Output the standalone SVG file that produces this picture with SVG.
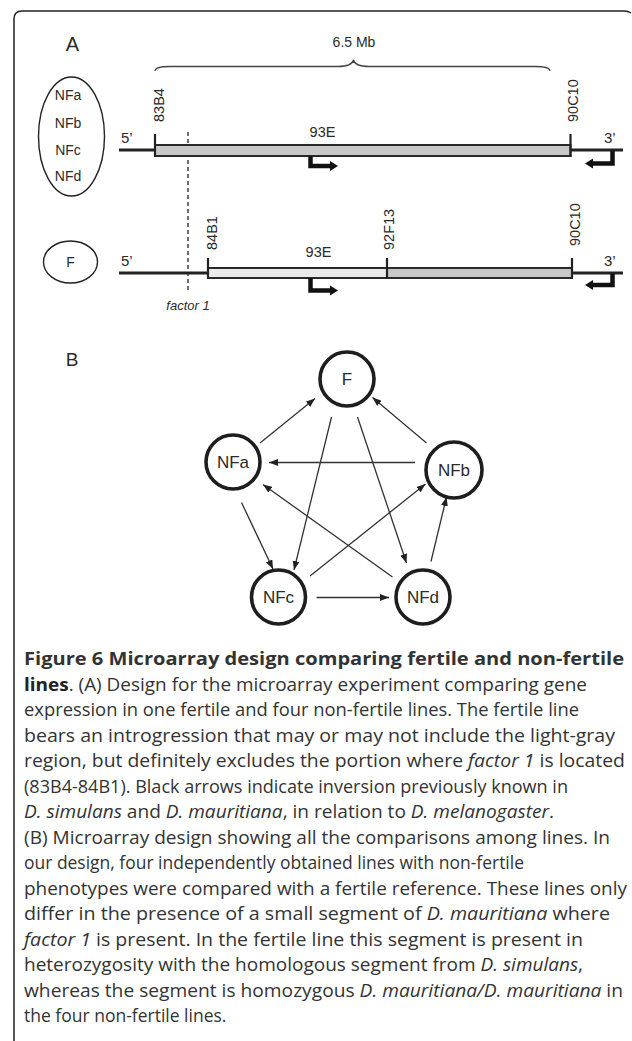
<svg xmlns="http://www.w3.org/2000/svg" width="632" height="1041" viewBox="0 0 632 1041">
<defs>
<style>
.lbl{font-family:"Liberation Sans",Arial,sans-serif;fill:#2a2a2a}
.cap{font-family:"Open Sans","Noto Sans",sans-serif;font-size:17.5px;fill:#333}
.chr{stroke:#222;stroke-width:3;fill:none}
.box{stroke:#2a2a2a;stroke-width:2}
.tick{stroke:#222;stroke-width:2.2}
.bent{stroke:#111;stroke-width:4.5;fill:none}
.head{fill:#111}
.node{fill:#fff;stroke:#1e1e1e;stroke-width:3.6}
.edge{stroke:#333;stroke-width:1.3;fill:none;marker-end:url(#ah)}
</style>
<marker id="ah" markerUnits="userSpaceOnUse" markerWidth="9" markerHeight="7" refX="9" refY="3.5" orient="auto">
<path d="M0,0 L9,3.5 L0,7 z" fill="#222"/>
</marker>
</defs>
<rect width="632" height="1041" fill="#fff"/>
<path d="M14,1041 V19 Q14,11 22,11 H624 Q628,11 631,13" fill="none" stroke="#222" stroke-width="1.5"/>

<g id="partA">
<text class="lbl" x="72.5" y="51" font-size="20" text-anchor="middle">A</text>
<text class="lbl" x="354" y="47" font-size="14" text-anchor="middle">6.5 Mb</text>
<path d="M155,71 Q155,66.5 170,66.5 H338 Q352,66.5 353.5,60 Q355,66.5 369,66.5 H535 Q550,66.5 550,71" fill="none" stroke="#444" stroke-width="1.3"/>
<line x1="188" y1="132" x2="188" y2="290" stroke="#222" stroke-width="1.3" stroke-dasharray="4,3"/>
</g>

<g id="groupNF">
<ellipse cx="71.5" cy="136.5" rx="33" ry="59.5" fill="none" stroke="#222" stroke-width="1.4"/>
<text class="lbl" x="68" y="100" font-size="14" text-anchor="middle">NFa</text>
<text class="lbl" x="68" y="128" font-size="14" text-anchor="middle">NFb</text>
<text class="lbl" x="68" y="155" font-size="14" text-anchor="middle">NFc</text>
<text class="lbl" x="68" y="181" font-size="14" text-anchor="middle">NFd</text>
</g>

<g id="chromNF">
<line class="chr" x1="119" y1="150" x2="623" y2="150"/>
<rect class="box" x="155" y="145" width="415.5" height="11" fill="#c8c8c8"/>
<line class="tick" x1="155" y1="134" x2="155" y2="157"/>
<line class="tick" x1="570.5" y1="134" x2="570.5" y2="157"/>
<text class="lbl" font-size="14.5" transform="translate(164,122) rotate(-90)">83B4</text>
<text class="lbl" font-size="14.5" transform="translate(578,122) rotate(-90)">90C10</text>
<text class="lbl" x="322.5" y="137" font-size="14.5" text-anchor="middle">93E</text>
<text class="lbl" x="121" y="143" font-size="15">5’</text>
<text class="lbl" x="604" y="143" font-size="15">3’</text>
<path class="bent" d="M310.5,156 V166 H331"/>
<path class="head" d="M330,161 L338,166 L330,171 z"/>
<path class="bent" d="M612.5,151 V163.5 H592"/>
<path class="head" d="M593,158.5 L585,163.5 L593,168.5 z"/>
</g>

<g id="groupF">
<ellipse cx="70.5" cy="262" rx="27" ry="21" fill="none" stroke="#222" stroke-width="1.4"/>
<text class="lbl" x="70.5" y="267" font-size="14" text-anchor="middle">F</text>
</g>

<g id="chromF">
<line class="chr" x1="119" y1="273" x2="623" y2="273"/>
<rect class="box" x="208" y="268" width="179" height="10" fill="#ebebeb"/>
<rect class="box" x="387" y="268" width="185" height="10" fill="#c8c8c8"/>
<line class="tick" x1="208" y1="258" x2="208" y2="279"/>
<line class="tick" x1="387" y1="258" x2="387" y2="279"/>
<line class="tick" x1="572" y1="258" x2="572" y2="279"/>
<text class="lbl" font-size="14.5" transform="translate(217,250) rotate(-90)">84B1</text>
<text class="lbl" font-size="14.5" transform="translate(394,250) rotate(-90)">92F13</text>
<text class="lbl" font-size="14.5" transform="translate(580,246) rotate(-90)">90C10</text>
<text class="lbl" x="318.5" y="257" font-size="14.5" text-anchor="middle">93E</text>
<text class="lbl" x="121" y="266" font-size="15">5’</text>
<text class="lbl" x="604" y="266" font-size="15">3’</text>
<path class="bent" d="M310.5,278 V290.5 H331"/>
<path class="head" d="M330,285.5 L338,290.5 L330,295.5 z"/>
<path class="bent" d="M612.5,274 V285 H592"/>
<path class="head" d="M593,280 L585,285 L593,290 z"/>
<text class="lbl" x="188" y="310" font-size="13" font-style="italic" text-anchor="middle">factor 1</text>
</g>

<text class="lbl" x="72" y="366" font-size="19" text-anchor="middle">B</text>

<g id="connectors">
<line class="edge" x1="260" y1="443" x2="315" y2="398.5"/>
<line class="edge" x1="426.5" y1="443" x2="372.5" y2="397.5"/>
<line class="edge" x1="331.5" y1="417" x2="294" y2="570"/>
<line class="edge" x1="357.5" y1="417" x2="406.5" y2="563"/>
<line class="edge" x1="415" y1="462.5" x2="269" y2="462.5"/>
<line class="edge" x1="392.5" y1="577" x2="263" y2="484.5"/>
<line class="edge" x1="310" y1="576" x2="425.5" y2="484"/>
<line class="edge" x1="241.5" y1="502.5" x2="273" y2="569"/>
<line class="edge" x1="431" y1="561.5" x2="446.5" y2="497"/>
<line class="edge" x1="316.5" y1="597.5" x2="389" y2="597.5"/>
</g>

<g id="F">
<circle class="node" cx="347" cy="379" r="27"/>
<text class="lbl" x="347" y="385" font-size="17" text-anchor="middle">F</text>
</g>
<g id="NFa">
<circle class="node" cx="233" cy="462" r="27"/>
<text class="lbl" x="233" y="468" font-size="17" text-anchor="middle">NFa</text>
</g>
<g id="NFb">
<circle class="node" cx="454" cy="470" r="28"/>
<text class="lbl" x="454" y="476" font-size="17" text-anchor="middle">NFb</text>
</g>
<g id="NFc">
<circle class="node" cx="278.5" cy="597" r="27"/>
<text class="lbl" x="278.5" y="603" font-size="17" text-anchor="middle">NFc</text>
</g>
<g id="NFd">
<circle class="node" cx="423" cy="597" r="27"/>
<text class="lbl" x="423" y="603" font-size="17" text-anchor="middle">NFd</text>
</g>

<g id="caption">
<text class="cap" x="24" y="665" font-weight="bold" fill="#222" textLength="600" lengthAdjust="spacingAndGlyphs">Figure 6 Microarray design comparing fertile and non-fertile</text>
<text class="cap" x="24" y="690.5" textLength="563" lengthAdjust="spacingAndGlyphs"><tspan font-weight="bold" fill="#222">lines</tspan>. (A) Design for the microarray experiment comparing gene</text>
<text class="cap" x="24" y="716" textLength="555" lengthAdjust="spacingAndGlyphs">expression in one fertile and four non-fertile lines. The fertile line</text>
<text class="cap" x="24" y="741.5" textLength="591" lengthAdjust="spacingAndGlyphs">bears an introgression that may or may not include the light-gray</text>
<text class="cap" x="24" y="767" textLength="601" lengthAdjust="spacingAndGlyphs">region, but definitely excludes the portion where <tspan font-style="italic">factor 1</tspan> is located</text>
<text class="cap" x="24" y="792.5" textLength="544" lengthAdjust="spacingAndGlyphs">(83B4-84B1). Black arrows indicate inversion previously known in</text>
<text class="cap" x="24" y="818" textLength="530" lengthAdjust="spacingAndGlyphs"><tspan font-style="italic">D. simulans</tspan> and <tspan font-style="italic">D. mauritiana</tspan>, in relation to <tspan font-style="italic">D. melanogaster</tspan>.</text>
<text class="cap" x="24" y="843.5" textLength="586" lengthAdjust="spacingAndGlyphs">(B) Microarray design showing all the comparisons among lines. In</text>
<text class="cap" x="24" y="869" textLength="500" lengthAdjust="spacingAndGlyphs">our design, four independently obtained lines with non-fertile</text>
<text class="cap" x="24" y="894.5" textLength="603" lengthAdjust="spacingAndGlyphs">phenotypes were compared with a fertile reference. These lines only</text>
<text class="cap" x="24" y="920" textLength="586" lengthAdjust="spacingAndGlyphs">differ in the presence of a small segment of <tspan font-style="italic">D. mauritiana</tspan> where</text>
<text class="cap" x="24" y="945.5" textLength="559" lengthAdjust="spacingAndGlyphs"><tspan font-style="italic">factor 1</tspan> is present. In the fertile line this segment is present in</text>
<text class="cap" x="24" y="971" textLength="559" lengthAdjust="spacingAndGlyphs">heterozygosity with the homologous segment from <tspan font-style="italic">D. simulans</tspan>,</text>
<text class="cap" x="24" y="996.5" textLength="599" lengthAdjust="spacingAndGlyphs">whereas the segment is homozygous <tspan font-style="italic">D. mauritiana/D. mauritiana</tspan> in</text>
<text class="cap" x="24" y="1022">the four non-fertile lines.</text>
</g>
</svg>
